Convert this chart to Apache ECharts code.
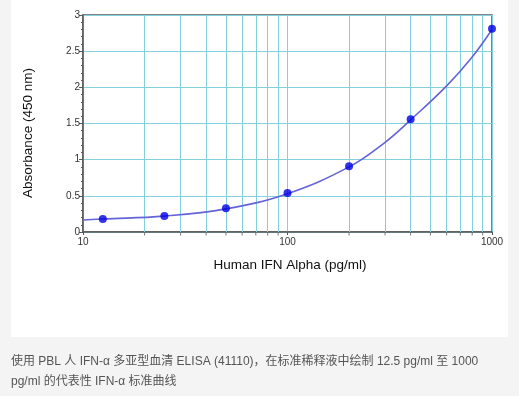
<!DOCTYPE html>
<html>
<head>
<meta charset="utf-8">
<script src="https://cdn.jsdelivr.net/npm/echarts@6/dist/echarts.min.js"></script>
<style>
html,body{margin:0;padding:0;background:#f4f4f4;}
#panel{position:absolute;left:11px;top:0;width:497px;height:337px;background:#fff;}
#chart{position:absolute;left:0;top:0;width:519px;height:396px;}
</style>
</head>
<body>
<div id="panel"></div>
<div id="chart"></div>
<script>
// Standard points (pg/ml, absorbance)
const concentrations = [12.5, 25, 50, 100, 200, 400, 1000];
const absorbance = [0.18, 0.22, 0.33, 0.54, 0.91, 1.56, 2.81];
// Fitted curve
const curveX = [10, 12.5, 25, 50, 100, 200, 300, 400, 600, 800, 1000];
const curveY = [0.165, 0.18, 0.22, 0.32, 0.53, 0.9, 1.24, 1.55, 2.02, 2.42, 2.8];
// Log minor grid positions
const minorX = [20, 30, 40, 50, 60, 70, 80, 90, 200, 300, 400, 500, 600, 700, 800, 900];
const yTicks = [0, 0.5, 1, 1.5, 2, 2.5, 3];
const xTicks = [10, 100, 1000];
const xTitle = 'Human IFN Alpha (pg/ml)';
const yTitle = 'Absorbance (450 nm)';
const captionLines = [
  '使用 PBL 人 IFN-α 多亚型血清 ELISA (41110)，在标准稀释液中绘制 12.5 pg/ml 至 1000',
  'pg/ml 的代表性 IFN-α 标准曲线'
];

const gridCol = '#84d0df';
const axisCol = '#5a5a5a';
const font = "'Liberation Sans', Arial, 'Noto Sans CJK SC', sans-serif";

const chart = echarts.init(document.getElementById('chart'), null, {renderer: 'canvas'});
chart.setOption({
  animation: false,
  backgroundColor: 'transparent',
  grid: {left: 83, top: 15, width: 409, height: 217, show: true, borderColor: axisCol, borderWidth: 1.5, backgroundColor: 'transparent'},
  xAxis: {
    type: 'log', logBase: 10, min: 10, max: 1000,
    axisLine: {show: true, onZero: false, lineStyle: {color: axisCol, width: 1.5}},
    axisTick: {show: true, length: 3, lineStyle: {color: axisCol}},
    axisLabel: {fontSize: 10, color: '#333', margin: 5, fontFamily: font,
      formatter: v => String(xTicks.find(t => Math.abs(t - v) / t < 1e-6) ?? Math.round(v))},
    splitLine: {show: true, lineStyle: {color: gridCol, width: 1}},
    minorTick: {show: false}, minorSplitLine: {show: false}
  },
  yAxis: {
    type: 'value', min: 0, max: 3, interval: 0.5,
    axisLine: {show: true, lineStyle: {color: axisCol, width: 1.5}},
    axisTick: {show: true, length: 4, lineStyle: {color: axisCol}},
    minorTick: {show: true, splitNumber: 5, length: 2, lineStyle: {color: axisCol}},
    axisLabel: {fontSize: 10, color: '#333', margin: 3, fontFamily: font,
      formatter: v => String(yTicks.find(t => Math.abs(t - v) < 1e-9) ?? v)},
    splitLine: {show: true, lineStyle: {color: gridCol, width: 1}}
  },
  series: [
    {
      type: 'line', data: [], silent: true,
      markLine: {
        silent: true, symbol: ['none', 'none'], animation: false,
        label: {show: false},
        lineStyle: {color: gridCol, width: 1, type: 'solid'},
        emphasis: {disabled: true},
        data: minorX.map(v => ({xAxis: v}))
      }
    },
    {
      type: 'scatter', silent: true, clip: false, z: 5,
      symbol: 'rect', symbolSize: [1, 3], symbolOffset: [0, 2],
      itemStyle: {color: axisCol},
      data: minorX.map(v => [v, 0])
    },
    {
      type: 'line', smooth: 0.4, showSymbol: false, silent: true, z: 6,
      lineStyle: {color: '#6464d6', width: 1.6},
      data: curveX.map((x, i) => [x, curveY[i]])
    },
    {
      type: 'scatter', silent: true, z: 7, clip: false,
      symbol: 'circle', symbolSize: 8,
      itemStyle: {color: '#0000e4'},
      data: concentrations.map((x, i) => [x, absorbance[i]])
    }
  ],
  graphic: [
    {type: 'text', x: 28, y: 133, rotation: Math.PI / 2,
      style: {text: yTitle, fontSize: 13.5, fontFamily: font, fill: '#111', align: 'center', verticalAlign: 'middle'}},
    {type: 'text', x: 290, y: 265,
      style: {text: xTitle, fontSize: 13.5, fontFamily: font, fill: '#111', align: 'center', verticalAlign: 'middle'}},
    {type: 'text', x: 11, y: 362,
      style: {text: captionLines[0], fontSize: 12, fontFamily: font, fill: '#555', align: 'left', verticalAlign: 'middle'}},
    {type: 'text', x: 11, y: 382,
      style: {text: captionLines[1], fontSize: 12, fontFamily: font, fill: '#555', align: 'left', verticalAlign: 'middle'}}
  ]
});
</script>
</body>
</html>
